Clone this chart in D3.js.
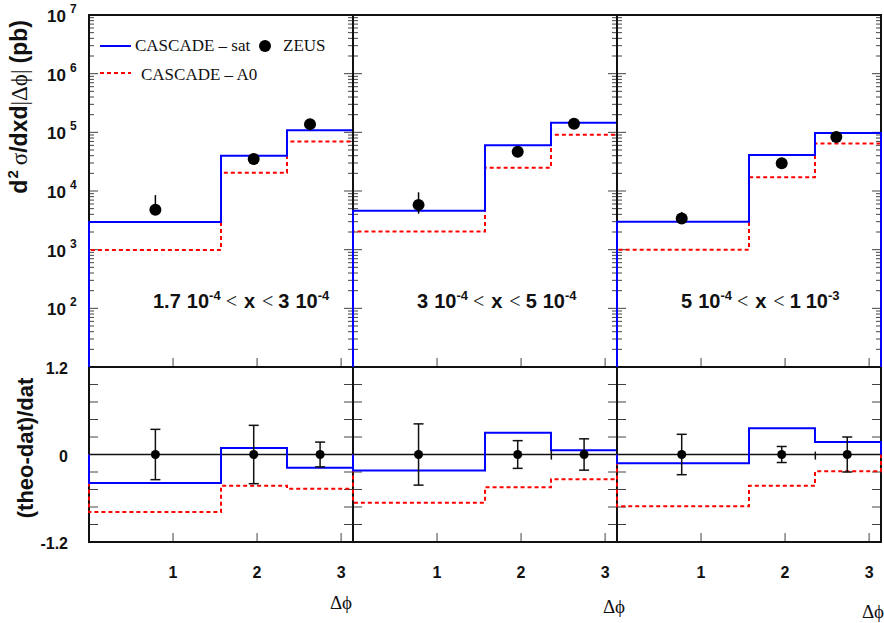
<!DOCTYPE html>
<html>
<head>
<meta charset="utf-8">
<script src="https://cdn.jsdelivr.net/npm/d3@7"></script>
<style>
  html, body { margin: 0; padding: 0; background: #fff; }
  svg { display: block; }
</style>
</head>
<body>
<svg id="chart" width="884" height="623"></svg>
<script>
// ---------------- DATA ----------------
const binEdges = [0, 1.571, 2.356, 3.142];        // Δφ bin edges
const xTicks = [1, 2, 3];
const logTickExps = [2, 3, 4, 5, 6, 7];
const ratioTickLabels = ["1.2", "0", "-1.2"];
const ratioTickValues = [1.2, 0, -1.2];

// x-range labels per panel: [lowMantissa, lowExp, highMantissa, highExp]
const xRangeLabels = [["1.7", "-4", "3", "-4"], ["3", "-4", "5", "-4"], ["5", "-4", "1", "-3"]];

// Upper panels: d2σ/dxd|Δφ| (pb)
const satTop = [[2970, 40000, 109000], [4600, 60000, 145000], [3000, 41000, 97000]];
const a0Top  = [[990, 20400, 70000], [2040, 25000, 90600], [1000, 17200, 64600]];
const zeusTopX  = [[0.79, 1.96, 2.63], [0.78, 1.96, 2.63], [0.77, 1.96, 2.61]];
const zeusTopY  = [[4800, 35000, 138000], [5800, 46500, 140000], [3400, 29800, 83000]];
const zeusTopHi = [[8500, 39000, 152000], [9500, 50000, 152000], [4400, 32000, 90000]];
const zeusTopLo = [[4200, 31000, 126000], [4100, 43000, 130000], [2900, 27500, 76000]];

// Lower panels: (theo-dat)/dat
const satRatio = [[-0.39, 0.09, -0.18], [-0.22, 0.30, 0.06], [-0.12, 0.36, 0.17]];
const a0Ratio  = [[-0.79, -0.43, -0.47], [-0.66, -0.45, -0.34], [-0.71, -0.43, -0.23]];
const ratioX   = [[0.79, 1.96, 2.75], [0.78, 1.96, 2.75], [0.77, 1.96, 2.74]];
const ratioErr = [[0.345, 0.40, 0.17], [0.42, 0.19, 0.215], [0.277, 0.11, 0.24]];
// small stray vertical marks at a bin edge: [x, low, high]
const edgeMarks = [[], [[2.36, -0.07, 0.06]], [[2.36, -0.07, 0.04]]];

// ---------------- LAYOUT ----------------
const SANS = "'Liberation Sans', Arial, Helvetica, sans-serif";
const SERIF = "'Liberation Serif', 'Times New Roman', serif";
const BLUE = "#0000ff", RED = "#ff0000";
const panelLeft = [89, 353, 617];
const panelW = 264;
const topY0 = 15, topY1 = 367, botY1 = 542;

const svg = d3.select("#chart");
const yTop = d3.scaleLog().domain([10, 1e7]).range([topY1, topY0]);
const yBot = d3.scaleLinear().domain([-1.2, 1.2]).range([botY1, topY1]);

function histPoints(vals, base) {
  const pts = [[binEdges[0], base]];
  vals.forEach((v, i) => { pts.push([binEdges[i], v]); pts.push([binEdges[i + 1], v]); });
  pts.push([binEdges[binEdges.length - 1], base]);
  return pts;
}

panelLeft.forEach((left, p) => {
  const x = d3.scaleLinear().domain([0, Math.PI]).range([left, left + panelW]);
  const g = svg.append("g");
  const clipId = "clip" + p;
  svg.append("clipPath").attr("id", clipId).append("rect")
    .attr("x", left - 1).attr("y", topY0 - 1).attr("width", panelW + 2).attr("height", botY1 - topY0 + 2);

  // ---- log axis ticks (left & right, inside) ----
  const logTicks = [];
  for (let e = 1; e < 7; e++) for (let k = 1; k <= 9; k++) logTicks.push({ v: k * Math.pow(10, e), major: k === 1 });
  logTicks.forEach(t => {
    const yy = yTop(t.v);
    const len = t.major ? 9 : 5;
    g.append("line").attr("x1", left).attr("x2", left + len).attr("y1", yy).attr("y2", yy)
      .attr("stroke", "#444").attr("stroke-width", 1);
    g.append("line").attr("x1", left + panelW).attr("x2", left + panelW - len).attr("y1", yy).attr("y2", yy)
      .attr("stroke", "#444").attr("stroke-width", 1);
  });
  // ---- ratio ticks ----
  d3.range(-1.2, 1.21, 0.24).forEach(v => {
    const yy = yBot(v);
    g.append("line").attr("x1", left).attr("x2", left + 9).attr("y1", yy).attr("y2", yy)
      .attr("stroke", "#444").attr("stroke-width", 1);
    g.append("line").attr("x1", left + panelW).attr("x2", left + panelW - 9).attr("y1", yy).attr("y2", yy)
      .attr("stroke", "#444").attr("stroke-width", 1);
  });
  // ---- x ticks ----
  xTicks.forEach(t => {
    [topY1, botY1].forEach(yb => {
      g.append("line").attr("x1", x(t)).attr("x2", x(t)).attr("y1", yb).attr("y2", yb - 9)
        .attr("stroke", "#444").attr("stroke-width", 1);
    });
  });

  // ---- frames ----
  g.append("rect").attr("x", left).attr("y", topY0).attr("width", panelW).attr("height", topY1 - topY0)
    .attr("fill", "none").attr("stroke", "#111").attr("stroke-width", 2);
  g.append("rect").attr("x", left).attr("y", topY1).attr("width", panelW).attr("height", botY1 - topY1)
    .attr("fill", "none").attr("stroke", "#111").attr("stroke-width", 2);
  // zero line
  g.append("line").attr("x1", left).attr("x2", left + panelW).attr("y1", yBot(0)).attr("y2", yBot(0))
    .attr("stroke", "#111").attr("stroke-width", 1.5);

  // ---- x tick labels ----
  xTicks.forEach(t => {
    svg.append("text").attr("x", x(t)).attr("y", 578).attr("text-anchor", "middle")
      .attr("font-family", SANS).attr("font-weight", "bold").attr("font-size", 16).attr("fill", "#111").text(t);
  });

  // ---- histograms ----
  const topLine = d3.line().x(d => x(d[0])).y(d => yTop(d[1]));
  const botLine = d3.line().x(d => x(d[0])).y(d => yBot(d[1]));
  const hg = svg.append("g").attr("clip-path", `url(#${clipId})`);
  hg.append("path").attr("d", topLine(histPoints(a0Top[p], 10))).attr("fill", "none")
    .attr("stroke", RED).attr("stroke-width", 2).attr("stroke-dasharray", "4,3");
  hg.append("path").attr("d", topLine(histPoints(satTop[p], 10))).attr("fill", "none")
    .attr("stroke", BLUE).attr("stroke-width", 2);
  hg.append("path").attr("d", botLine(histPoints(a0Ratio[p], 0))).attr("fill", "none")
    .attr("stroke", RED).attr("stroke-width", 2).attr("stroke-dasharray", "4,3");
  hg.append("path").attr("d", botLine(histPoints(satRatio[p], 0))).attr("fill", "none")
    .attr("stroke", BLUE).attr("stroke-width", 2);

  // ---- ZEUS points (top) ----
  zeusTopX[p].forEach((xv, i) => {
    svg.append("line").attr("x1", x(xv)).attr("x2", x(xv))
      .attr("y1", yTop(zeusTopLo[p][i])).attr("y2", yTop(zeusTopHi[p][i]))
      .attr("stroke", "#000").attr("stroke-width", 1.5);
    svg.append("circle").attr("cx", x(xv)).attr("cy", yTop(zeusTopY[p][i])).attr("r", 6).attr("fill", "#000");
  });
  // ---- ratio points (bottom) ----
  ratioX[p].forEach((xv, i) => {
    const cx = x(xv), e = ratioErr[p][i];
    svg.append("line").attr("x1", cx).attr("x2", cx).attr("y1", yBot(-e)).attr("y2", yBot(e))
      .attr("stroke", "#111").attr("stroke-width", 1.5);
    [-e, e].forEach(v => svg.append("line").attr("x1", cx - 5).attr("x2", cx + 5)
      .attr("y1", yBot(v)).attr("y2", yBot(v)).attr("stroke", "#111").attr("stroke-width", 1.5));
    svg.append("circle").attr("cx", cx).attr("cy", yBot(0)).attr("r", 4.5).attr("fill", "#000");
  });
  edgeMarks[p].forEach(m => {
    svg.append("line").attr("x1", x(m[0])).attr("x2", x(m[0])).attr("y1", yBot(m[1])).attr("y2", yBot(m[2]))
      .attr("stroke", "#111").attr("stroke-width", 1.5);
  });

  // ---- x-range annotation ----
  const lab = xRangeLabels[p];
  const t = svg.append("text").attr("x", left + 64).attr("y", 308)
    .attr("font-family", SANS).attr("font-weight", "bold").attr("font-size", 20).attr("fill", "#111");
  t.append("tspan").text(lab[0]);
  t.append("tspan").attr("dx", 6).text("10");
  t.append("tspan").attr("font-size", 13).attr("dy", -8).attr("dx", 0).text(lab[1]);
  t.append("tspan").attr("font-family", SERIF).attr("font-weight", "normal").attr("dy", 8).attr("dx", 5).text("<");
  t.append("tspan").attr("dx", 7).text("x");
  t.append("tspan").attr("font-family", SERIF).attr("font-weight", "normal").attr("dx", 7).text("<");
  t.append("tspan").attr("dx", 5).text(lab[2]);
  t.append("tspan").attr("dx", 6).text("10");
  t.append("tspan").attr("font-size", 13).attr("dy", -8).attr("dx", 0).text(lab[3]);
});

// ---- Δφ labels ----
[[341, 609], [614, 613], [873, 618]].forEach(pos => {
  svg.append("text").attr("x", pos[0]).attr("y", pos[1]).attr("text-anchor", "middle")
    .attr("font-family", SERIF).attr("font-size", 19).attr("fill", "#111").text("Δϕ");
});

// ---- log axis labels ----
logTickExps.forEach(e => {
  const yy = yTop(Math.pow(10, e));
  const t = svg.append("text").attr("x", 47).attr("y", yy + 7)
    .attr("font-family", SANS).attr("font-weight", "bold").attr("font-size", 17).attr("fill", "#111");
  t.append("tspan").text("10");
  t.append("tspan").attr("font-size", 12).attr("dx", 4).attr("dy", -9).text(e);
});
// ---- ratio axis labels ----
ratioTickValues.forEach((v, i) => {
  svg.append("text").attr("x", 68).attr("y", yBot(v) + 7).attr("text-anchor", "end")
    .attr("font-family", SANS).attr("font-weight", "bold").attr("font-size", 16).attr("fill", "#111")
    .text(ratioTickLabels[i]);
});

// ---- axis titles ----
const yt = svg.append("text").attr("transform", "translate(27,20) rotate(-90)").attr("text-anchor", "end")
  .attr("font-family", SANS).attr("font-weight", "bold").attr("font-size", 23).attr("fill", "#111");
yt.append("tspan").text("d");
yt.append("tspan").attr("font-size", 15).attr("dy", -9).attr("dx", 1).text("2");
yt.append("tspan").attr("font-family", SERIF).attr("font-weight", "normal").attr("dy", 9).attr("dx", 5).text("σ");
yt.append("tspan").text("/dxd");
yt.append("tspan").attr("font-family", SERIF).attr("font-weight", "normal").text("|Δϕ|");
yt.append("tspan").attr("dx", 6).text("(pb)");

svg.append("text").attr("transform", "translate(33,448) rotate(-90)").attr("text-anchor", "middle")
  .attr("font-family", SANS).attr("font-weight", "bold").attr("font-size", 22).attr("fill", "#111")
  .text("(theo-dat)/dat");

// ---- legend ----
svg.append("line").attr("x1", 100).attr("x2", 131).attr("y1", 46).attr("y2", 46).attr("stroke", BLUE).attr("stroke-width", 2);
svg.append("text").attr("x", 135).attr("y", 51).attr("font-family", SERIF).attr("font-size", 17).attr("fill", "#111").text("CASCADE – sat");
svg.append("circle").attr("cx", 265).attr("cy", 46).attr("r", 6).attr("fill", "#000");
svg.append("text").attr("x", 283).attr("y", 51).attr("font-family", SERIF).attr("font-size", 17).attr("fill", "#111").text("ZEUS");
svg.append("line").attr("x1", 100).attr("x2", 131).attr("y1", 73).attr("y2", 73).attr("stroke", RED).attr("stroke-width", 2).attr("stroke-dasharray", "4,3");
svg.append("text").attr("x", 141).attr("y", 80).attr("font-family", SERIF).attr("font-size", 17).attr("fill", "#111").text("CASCADE – A0");
</script>
</body>
</html>
